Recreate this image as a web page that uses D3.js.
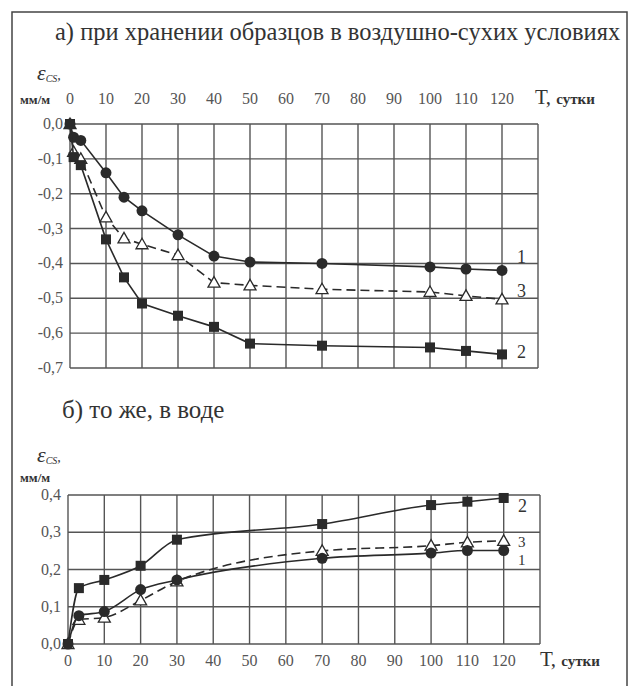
<!DOCTYPE html>
<html>
<head>
<meta charset="utf-8">
<script src="https://cdn.jsdelivr.net/npm/d3@7"></script>
<style>
  body { margin: 0; background: #fff; }
</style>
</head>
<body>
<div id="chart"></div>
<script>
// x ticks (days)
const xTicks = [0, 10, 20, 30, 40, 50, 60, 70, 80, 90, 100, 110, 120];

// a) air-dry storage
const airT1 = [0, 1, 3, 10, 15, 20, 30, 40, 50, 70, 100, 110, 120];
const air1  = [0, -0.038, -0.047, -0.14, -0.21, -0.249, -0.318, -0.379, -0.396, -0.40, -0.41, -0.416, -0.42];
const airT2 = [0, 1, 3, 10, 15, 20, 30, 40, 50, 70, 100, 110, 120];
const air2  = [0, -0.095, -0.118, -0.331, -0.44, -0.515, -0.55, -0.582, -0.63, -0.636, -0.641, -0.651, -0.661];
const airT3 = [0, 1, 3, 10, 15, 20, 30, 40, 50, 70, 100, 110, 120];
const air3  = [0, -0.08, -0.1, -0.268, -0.328, -0.345, -0.376, -0.455, -0.463, -0.474, -0.482, -0.493, -0.503];
const airYTicks = [0, -0.1, -0.2, -0.3, -0.4, -0.5, -0.6, -0.7];

// б) in water
const watT = [0, 3, 10, 20, 30, 70, 100, 110, 120];
const wat1 = [0, 0.076, 0.087, 0.146, 0.172, 0.230, 0.244, 0.251, 0.251];
const wat2 = [0, 0.150, 0.172, 0.210, 0.280, 0.322, 0.373, 0.382, 0.392];
const wat3 = [0, 0.065, 0.071, 0.117, 0.168, 0.250, 0.264, 0.273, 0.277];
const watYTicks = [0, 0.1, 0.2, 0.3, 0.4];

const W = 638, H = 686;
const ink = "#2a2a2a", gridC = "#555";
const SERIF = '"Liberation Serif"';

const svg = d3.select("#chart").append("svg")
  .attr("width", W).attr("height", H);

// frame
svg.append("rect").attr("x", 12).attr("y", 12).attr("width", 615).attr("height", H)
  .attr("fill", "none").attr("stroke", "#444").attr("stroke-width", 1.5);

const fmt = v => d3.format(".1f")(v).replace("−", "-").replace(".", ",");

function panel(opt) {
  const x = d3.scaleLinear().domain([0, 130]).range(opt.xr);
  const y = d3.scaleLinear().domain(opt.yd).range(opt.yr);
  const g = svg.append("g");

  // title
  svg.append("text").attr("font-family", SERIF).attr("fill", "#333")
    .attr("x", opt.titleX).attr("y", opt.titleY)
    .attr("font-size", opt.titleSize).text(opt.title);

  // epsilon label
  const eps = svg.append("text").attr("font-family", SERIF).attr("fill", "#333")
    .attr("x", 37).attr("y", opt.epsY).attr("font-size", 22).attr("font-style", "italic");
  eps.append("tspan").text("ε");
  eps.append("tspan").attr("font-size", 10).attr("dy", 2).text("CS");
  eps.append("tspan").attr("font-size", 14).attr("dy", -2).text(",");
  svg.append("text").attr("font-family", SERIF).attr("fill", "#333")
    .attr("x", 20).attr("y", opt.unitY).attr("font-size", 13)
    .attr("font-weight", "bold").text("мм/м");

  // grid
  const gx = d3.range(0, 131, 10);
  g.selectAll("line.vx").data(gx).join("line")
    .attr("x1", d => x(d)).attr("x2", d => x(d))
    .attr("y1", opt.yr[0]).attr("y2", opt.yr[1])
    .attr("stroke", gridC).attr("stroke-width", 1.4);
  g.selectAll("line.hy").data(opt.yTicks).join("line")
    .attr("x1", x(0)).attr("x2", x(130))
    .attr("y1", d => y(d)).attr("y2", d => y(d))
    .attr("stroke", gridC).attr("stroke-width", 1.4);

  // y tick labels
  g.selectAll("text.yl").data(opt.yTicks).join("text")
    .attr("font-family", SERIF)
    .attr("x", x(0) - 7).attr("y", d => y(d) + 5)
    .attr("text-anchor", "end").attr("font-size", 16).attr("fill", "#555")
    .text(fmt);

  // x tick labels
  g.selectAll("text.xl").data(xTicks).join("text")
    .attr("font-family", SERIF)
    .attr("x", d => x(d)).attr("y", opt.xLabY)
    .attr("text-anchor", "middle").attr("font-size", 16).attr("fill", "#555")
    .text(d => d);
  const tl = svg.append("text").attr("font-family", SERIF).attr("fill", "#333")
    .attr("x", opt.tX).attr("y", opt.xLabY).attr("font-size", 21);
  tl.append("tspan").text("Т, ");
  tl.append("tspan").attr("font-size", 15).attr("font-weight", "bold").text("сутки");

  const curve = opt.curve;
  opt.series.forEach(s => {
    const pts = s.t.map((t, i) => [t, s.v[i]]);
    const line = d3.line().x(d => x(d[0])).y(d => y(d[1])).curve(curve);
    g.append("path").attr("d", line(pts)).attr("fill", "none")
      .attr("stroke", ink).attr("stroke-width", 1.6)
      .attr("stroke-dasharray", s.dash ? "9,5" : null);
    const m = g.append("g");
    pts.forEach(p => {
      const cx = x(p[0]), cy = y(p[1]);
      if (s.mark === "circle") {
        m.append("circle").attr("cx", cx).attr("cy", cy).attr("r", 5.5).attr("fill", ink);
      } else if (s.mark === "square") {
        m.append("rect").attr("x", cx - 5).attr("y", cy - 5).attr("width", 10).attr("height", 10).attr("fill", ink);
      } else {
        m.append("path").attr("d", `M${cx},${cy - 6}L${cx + 6},${cy + 4.5}L${cx - 6},${cy + 4.5}Z`)
          .attr("fill", "#fff").attr("stroke", ink).attr("stroke-width", 1.3);
      }
    });
    svg.append("text").attr("font-family", SERIF).attr("fill", "#333")
      .attr("x", s.lx).attr("y", s.ly).attr("font-size", s.fs || 18).text(s.name);
  });
}

panel({
  title: "а) при хранении образцов в воздушно-сухих  условиях", titleX: 55, titleY: 40, titleSize: 24.5,
  epsY: 80, unitY: 104, xLabY: 104, tX: 535,
  xr: [70, 538], yd: [0, -0.7], yr: [124, 368], yTicks: airYTicks,
  curve: d3.curveLinear,
  series: [
    { name: "1", t: airT1, v: air1, mark: "circle", lx: 517, ly: 263 },
    { name: "3", t: airT3, v: air3, mark: "tri", dash: true, lx: 517, ly: 297 },
    { name: "2", t: airT2, v: air2, mark: "square", lx: 517, ly: 358 }
  ]
});

panel({
  title: "б) то же, в воде", titleX: 62, titleY: 418, titleSize: 25,
  epsY: 462, unitY: 482, xLabY: 666, tX: 540,
  xr: [68, 540], yd: [0, 0.4], yr: [644, 495], yTicks: watYTicks,
  curve: d3.curveMonotoneX,
  series: [
    { name: "2", t: watT, v: wat2, mark: "square", lx: 518, ly: 512 },
    { name: "3", t: watT, v: wat3, mark: "tri", dash: true, lx: 518, ly: 547, fs: 15 },
    { name: "1", t: watT, v: wat1, mark: "circle", lx: 518, ly: 565, fs: 15 }
  ]
});
</script>
</body>
</html>
